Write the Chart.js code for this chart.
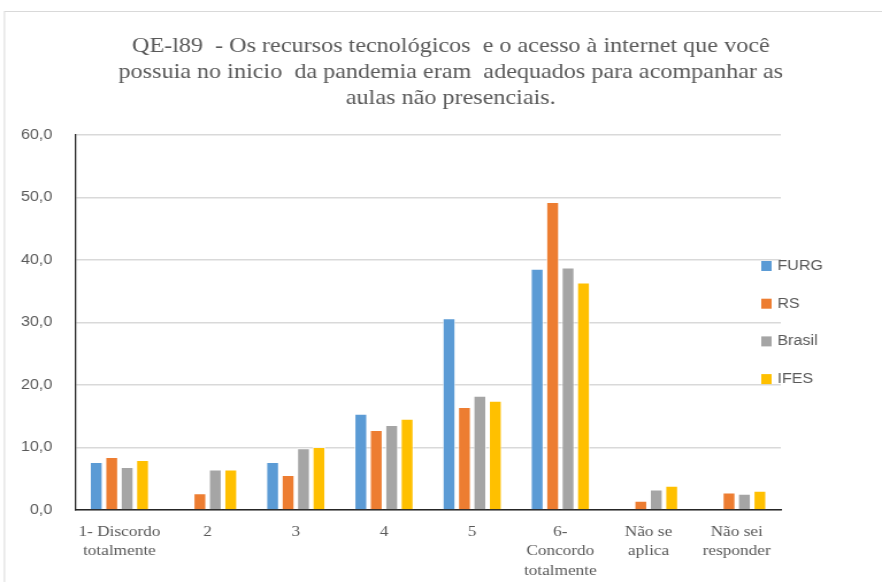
<!DOCTYPE html>
<html>
<head>
<meta charset="utf-8">
<script src="https://cdn.jsdelivr.net/npm/chart.js@4/dist/chart.umd.min.js"></script>
<style>
  html, body { margin: 0; padding: 0; background: #fff; overflow: hidden; }
</style>
</head>
<body>
<!-- o canvas é desenhado mais estreito e esticado na horizontal, como o gráfico original -->
<canvas id="grafico" width="767" height="582" style="display:block;width:882px;height:582px"></canvas>
<script>
const titulo = [
    "QE-l89  - Os recursos tecnológicos  e o acesso à internet que você",
    "possuia no inicio  da pandemia eram  adequados para acompanhar as",
    "aulas não presenciais.",
];
const categorias = [
    ["1- Discordo", "totalmente"], "2", "3", "4", "5",
    ["6-", "Concordo", "totalmente"], ["Não se", "aplica"], ["Não sei", "responder"],
];
const series = ["FURG", "RS", "Brasil", "IFES"];
const valoresFURG = [7.7, 0, 7.7, 15.4, 30.7, 38.6, 0, 0];
const valoresRS = [8.5, 2.7, 5.6, 12.8, 16.5, 49.3, 1.5, 2.8];
const valoresBrasil = [6.9, 6.5, 9.9, 13.6, 18.3, 38.8, 3.3, 2.6];
const valoresIFES = [8.0, 6.5, 10.1, 14.6, 17.5, 36.4, 3.9, 3.1];
const ticksY = [0, 10, 20, 30, 40, 50, 60];

const cores = ["#5B9BD5", "#ED7D31", "#A5A5A5", "#FFC000"];
const valores = [valoresFURG, valoresRS, valoresBrasil, valoresIFES];
const corTexto = "#595959";

// moldura, título e legenda desenhados à mão
const extras = {
    id: "extras",
    beforeDraw(chart) {
        const ctx = chart.ctx;
        ctx.save();
        ctx.strokeStyle = "#d9d9d9";
        ctx.lineWidth = 1;
        ctx.strokeRect(3.9, 11.5, 800, 620);
        ctx.restore();
    },
    afterDraw(chart) {
        const ctx = chart.ctx;
        ctx.save();
        ctx.fillStyle = corTexto;
        ctx.textAlign = "center";
        ctx.textBaseline = "middle";
        ctx.font = "21px 'Liberation Serif'";
        titulo.forEach((linha, i) => ctx.fillText(linha, 392, 46 + i * 26));

        ctx.textAlign = "left";
        ctx.font = "14px 'Liberation Sans'";
        chart.data.datasets.forEach((ds, i) => {
            const y = 266 + i * 37.7;
            ctx.fillStyle = ds.backgroundColor;
            ctx.fillRect(662, y - 5, 9, 10);
            ctx.fillStyle = corTexto;
            ctx.fillText(ds.label, 676, y);
        });
        ctx.restore();
    },
};

new Chart(document.getElementById("grafico").getContext("2d"), {
    type: "bar",
    data: {
        labels: categorias,
        datasets: series.map((nome, i) => ({
            label: nome,
            data: valores[i],
            backgroundColor: cores[i],
            borderColor: "rgba(255,255,255,0.7)",
            borderWidth: 1,
            categoryPercentage: 0.7,
            barPercentage: 0.85,
        })),
    },
    options: {
        responsive: false,
        animation: false,
        layout: { padding: { top: 135, left: 0, right: 88, bottom: 0 } },
        plugins: { legend: { display: false }, title: { display: false }, tooltip: { enabled: false } },
        scales: {
            x: {
                grid: { display: false, drawTicks: false },
                border: { display: true, color: "#262626", width: 1.5 },
                ticks: {
                    color: corTexto,
                    padding: 12,
                    maxRotation: 0,
                    autoSkip: false,
                    font: { family: "'Liberation Serif'", size: 15, lineHeight: 1.3 },
                },
                afterFit(scale) { scale.height = 72; },
            },
            y: {
                min: 0,
                max: 60,
                afterBuildTicks(scale) { scale.ticks = ticksY.map((v) => ({ value: v })); },
                grid: { color: "#d9d9d9", lineWidth: 1.5, drawTicks: false },
                border: { display: true, color: "#262626", width: 1.3 },
                ticks: {
                    color: corTexto,
                    padding: 20,
                    font: { family: "'Liberation Sans'", size: 14 },
                    callback: (v) => v.toFixed(1).replace(".", ","),
                },
                afterFit(scale) { scale.width = 65.5; },
            },
        },
    },
    plugins: [extras],
});
</script>
</body>
</html>
